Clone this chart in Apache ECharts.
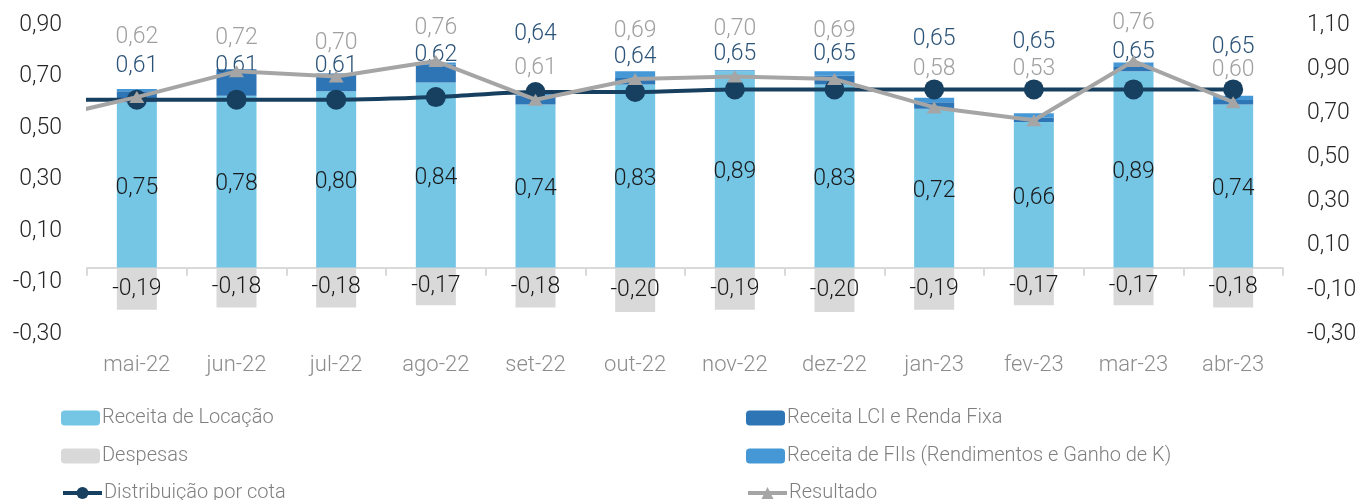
<!DOCTYPE html>
<html>
<head>
<meta charset="utf-8">
<script src="https://cdn.jsdelivr.net/npm/echarts@6/dist/echarts.min.js"></script>
<style>
html,body{margin:0;padding:0;background:#fff;}
#chart{width:1364px;height:500px;}
</style>
</head>
<body>
<div id="chart"></div>
<script>
// ---- data ----
const categories = ['mai-22','jun-22','jul-22','ago-22','set-22','out-22','nov-22','dez-22','jan-23','fev-23','mar-23','abr-23'];
const receitaLocacao = [0.75,0.78,0.80,0.84,0.74,0.83,0.89,0.83,0.72,0.66,0.89,0.74];
const receitaLCI     = [0.05,0.12,0.08,0.08,0.04,0.03,0.00,0.04,0.03,0.02,0.02,0.02];
const receitaFII     = [0.01,0.00,0.00,0.01,0.01,0.03,0.005,0.02,0.02,0.02,0.02,0.02];
const despesas       = [-0.19,-0.18,-0.18,-0.17,-0.18,-0.20,-0.19,-0.20,-0.19,-0.17,-0.17,-0.18];
const distribuicao   = [0.61,0.61,0.61,0.62,0.64,0.64,0.65,0.65,0.65,0.65,0.65,0.65];
const resultado      = [0.62,0.72,0.70,0.76,0.61,0.69,0.70,0.69,0.58,0.53,0.76,0.60];
// previous month (abr-22): only the segment entering the plot is visible
const distribuicaoPrev = 0.61;
const resultadoPrev = 0.53;
const leftTicks = { min: -0.3, max: 0.9, step: 0.2 };
const rightTicks = { min: -0.3, max: 1.1, step: 0.2 };
const legendNames = [
  'Receita de Locação', 'Receita LCI e Renda Fixa',
  'Despesas', 'Receita de FIIs (Rendimentos e Ganho de K)',
  'Distribuição por cota', 'Resultado'
];

// ---- layout (label placement, px) ----
const navyLabelDy = [-33,-33,-33,-42,-58,-35,-35,-35,-50,-47,-37,-42];
const grayLabelDy = [-60,-33,-33,-33,-31,-48,-47,-48,-38,-51,-38,-32];

const W = 1364, GRID_LEFT = 87, GRID_RIGHT = 81;
const FONT = 'Roboto';
const NAVY = '#173f5f', GRAY = '#a5a5a5';
const fmt = v => v.toFixed(2).replace('.', ',');

function lineData(vals, prev, dys) {
  const out = [{ value: [-0.5, prev], symbol: 'none', label: { show: false } }];
  vals.forEach((v, i) => out.push({ value: [i + 0.5, v], label: { offset: [0, dys[i]] } }));
  return out;
}
// colour that is transparent left of the plot area (acts as clip)
function plotClipped(color) {
  const e = (GRID_LEFT - 0.5) / W;
  const f = (W - GRID_RIGHT + 0.5) / W;
  return {
    type: 'linear', x: 0, y: 0, x2: W, y2: 0, global: true,
    colorStops: [
      { offset: 0, color: 'rgba(255,255,255,0)' },
      { offset: e, color: 'rgba(255,255,255,0)' },
      { offset: e, color: color },
      { offset: f, color: color },
      { offset: f, color: 'rgba(255,255,255,0)' },
      { offset: 1, color: 'rgba(255,255,255,0)' }
    ]
  };
}

const legendColors = {
  'Distribuição por cota': NAVY,
  'Resultado': GRAY
};
const legendCols = [56, 741];
const legendRowTops = [402, 440, 477];
const legends = legendNames.map((name, k) => ({
  left: legendCols[k % 2], top: legendRowTops[Math.floor(k / 2)],
  itemWidth: 39, itemHeight: 15,
  textStyle: { fontFamily: FONT, fontWeight: 300, fontSize: 20, color: '#7f7f7f', lineHeight: 22, padding: [0, 0, 0, -3] },
  data: [legendColors[name]
    ? { name: name, itemStyle: { color: legendColors[name] }, lineStyle: { color: legendColors[name], width: 4 } }
    : name]
}));

const chart = echarts.init(document.getElementById('chart'), null, { renderer: 'canvas' });
const option = {
  animation: false,
  textStyle: { fontFamily: FONT, fontWeight: 300 },
  grid: { left: GRID_LEFT, right: GRID_RIGHT, top: 25, bottom: 166, containLabel: false },
  legend: legends,
  xAxis: [
    {
      type: 'category', data: categories, boundaryGap: true,
      axisLine: { show: true, onZero: true, onZeroAxisIndex: 1, lineStyle: { color: '#d9d9d9', width: 2 } },
      axisTick: { show: true, length: 8, lineStyle: { color: '#d9d9d9', width: 2 } },
      axisLabel: { margin: 20, fontFamily: FONT, fontWeight: 300, fontSize: 22, color: '#8c8c8c' },
      splitLine: { show: false }
    },
    {
      type: 'value', min: 0, max: categories.length, show: false
    }
  ],
  yAxis: [
    {
      type: 'value', position: 'left', min: leftTicks.min, max: leftTicks.max, interval: leftTicks.step,
      axisLine: { show: false }, axisTick: { show: false }, splitLine: { show: false },
      axisLabel: { margin: 25, fontFamily: FONT, fontWeight: 300, fontSize: 23, color: '#262626', formatter: v => fmt(v) }
    },
    {
      type: 'value', position: 'right', min: rightTicks.min, max: rightTicks.max, interval: rightTicks.step,
      axisLine: { show: false }, axisTick: { show: false }, splitLine: { show: false },
      axisLabel: { margin: 24, fontFamily: FONT, fontWeight: 300, fontSize: 23, color: '#262626', formatter: v => fmt(v) }
    }
  ],
  series: [
    {
      name: 'Receita de Locação', type: 'bar', stack: 'r', yAxisIndex: 1, barWidth: 40,
      itemStyle: { color: '#75c5e5' }, data: receitaLocacao,
      label: { show: true, position: 'inside', offset: [0, 3], fontFamily: FONT, fontWeight: 300, fontSize: 23, color: '#1a1a1a', formatter: p => fmt(p.value) },
      z: 2
    },
    {
      name: 'Receita LCI e Renda Fixa', type: 'bar', stack: 'r', yAxisIndex: 1, barWidth: 40,
      itemStyle: { color: '#2e75b6' }, data: receitaLCI, z: 2
    },
    {
      name: 'Despesas', type: 'bar', stack: 'r', yAxisIndex: 1, barWidth: 40,
      itemStyle: { color: '#d9d9d9' }, data: despesas,
      label: { show: true, position: 'inside', fontFamily: FONT, fontWeight: 300, fontSize: 23, color: '#1a1a1a', formatter: p => fmt(p.value) },
      z: 2
    },
    {
      name: 'Receita de FIIs (Rendimentos e Ganho de K)', type: 'bar', stack: 'r', yAxisIndex: 1, barWidth: 40,
      itemStyle: { color: '#4597d6' }, data: receitaFII, z: 2
    },
    {
      name: 'Distribuição por cota', type: 'line', xAxisIndex: 1, yAxisIndex: 0,
      smooth: 0.3, clip: true,
      symbol: 'circle', symbolSize: 20, showAllSymbol: true,
      lineStyle: { color: plotClipped(NAVY), width: 4 },
      itemStyle: { color: NAVY },
      label: { show: true, position: 'inside', fontFamily: FONT, fontWeight: 300, fontSize: 23, color: '#2b5378', formatter: p => fmt(p.value[1]) },
      data: lineData(distribuicao, distribuicaoPrev, navyLabelDy),
      z: 5
    },
    {
      name: 'Resultado', type: 'line', xAxisIndex: 1, yAxisIndex: 0,
      clip: true,
      symbol: 'triangle', symbolSize: [15, 12], showAllSymbol: true,
      lineStyle: { color: plotClipped(GRAY), width: 4 },
      itemStyle: { color: GRAY },
      label: { show: true, position: 'inside', fontFamily: FONT, fontWeight: 300, fontSize: 23, color: '#a0a0a0', formatter: p => fmt(p.value[1]) },
      data: lineData(resultado, resultadoPrev, grayLabelDy),
      z: 6
    }
  ]
};
chart.setOption(option);
</script>
</body>
</html>
